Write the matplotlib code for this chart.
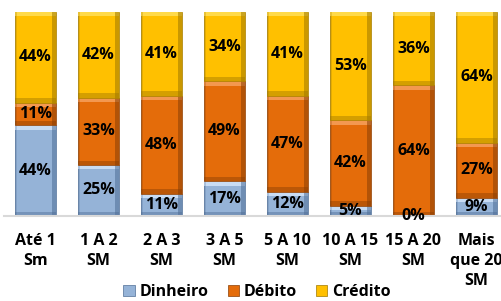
import numpy as np
import matplotlib
matplotlib.use('Agg')
from matplotlib import pyplot as plt

plt.rcParams['font.family'] = ['Open Sans', 'DejaVu Sans']

categorias = ['Até 1\nSm', '1 A 2\nSM', '2 A 3\nSM', '3 A 5\nSM', '5 A 10\nSM',
              '10 A 15\nSM', '15 A 20\nSM', 'Mais\nque 20\nSM']
dinheiro = [44, 25, 11, 17, 12, 5, 0, 9]
debito = [11, 33, 48, 49, 47, 42, 64, 27]
credito = [44, 42, 41, 34, 41, 53, 36, 64]

# nome, valores, cor, sombra, brilho
series = [('Dinheiro', dinheiro, '#95B3D7', '#4F6E96', '#C8DCF4'),
          ('Débito', debito, '#E46C0A', '#8A3F05', '#F39850'),
          ('Crédito', credito, '#FFC000', '#A07800', '#FFDA4A')]

fig = plt.figure(figsize=(5.01, 3.01), dpi=100)
ax = fig.add_axes([4 / 501, 85 / 301, 504 / 501, 204 / 301])

x = np.arange(len(categorias))
tot = np.array(dinheiro) + np.array(debito) + np.array(credito)
w = 0.65
bev_x = 0.07
bev_y = 0.022
base = np.zeros(len(x))
handles = []
for nome, vals, cor, escuro, claro in series:
  h = np.array(vals) / tot
  b = ax.bar(x, h, w, bottom=base, color=cor, edgecolor=escuro, linewidth=0.5)
  # bisel: brilho em cima, sombra embaixo e nas laterais
  bt = np.minimum(h, bev_y)
  ax.bar(x, bt, w, bottom=base + h - bt, color=claro, linewidth=0)
  ax.bar(x, bt, w, bottom=base, color=escuro, linewidth=0, alpha=0.45)
  ax.bar(x - w / 2 + bev_x / 4, h, bev_x / 2, bottom=base, color=escuro, linewidth=0, alpha=0.25)
  ax.bar(x + w / 2 - bev_x / 2, h, bev_x, bottom=base, color=escuro, linewidth=0, alpha=0.55)
  for i in range(len(x)):
    ax.text(x[i], base[i] + h[i] / 2, '%d%%' % vals[i], ha='center', va='center',
            fontsize=11.5, fontweight='bold', color='black')
  handles.append(b)
  base = base + h

ax.set_xlim(-0.5, len(x) - 0.5)
ax.set_ylim(0, 1)
ax.set_yticks([])
ax.set_xticks(x)
ax.set_xticklabels(categorias, fontsize=11.5, fontweight='bold', linespacing=1.35)
ax.tick_params(axis='x', length=0, pad=12)
for s in ['top', 'right', 'left']:
  ax.spines[s].set_visible(False)
ax.spines['bottom'].set_color('#D9D9D9')
ax.spines['bottom'].set_linewidth(1.5)

fig.legend(handles=handles, labels=[s[0] for s in series], loc='center',
           bbox_to_anchor=(257 / 501, 9 / 301), ncol=3, frameon=False,
           prop={'size': 11.5, 'weight': 'bold'}, handlelength=0.7, handleheight=0.7,
           handletextpad=0.3, columnspacing=1.2, borderpad=0)

fig.savefig('out.png', dpi=100)
